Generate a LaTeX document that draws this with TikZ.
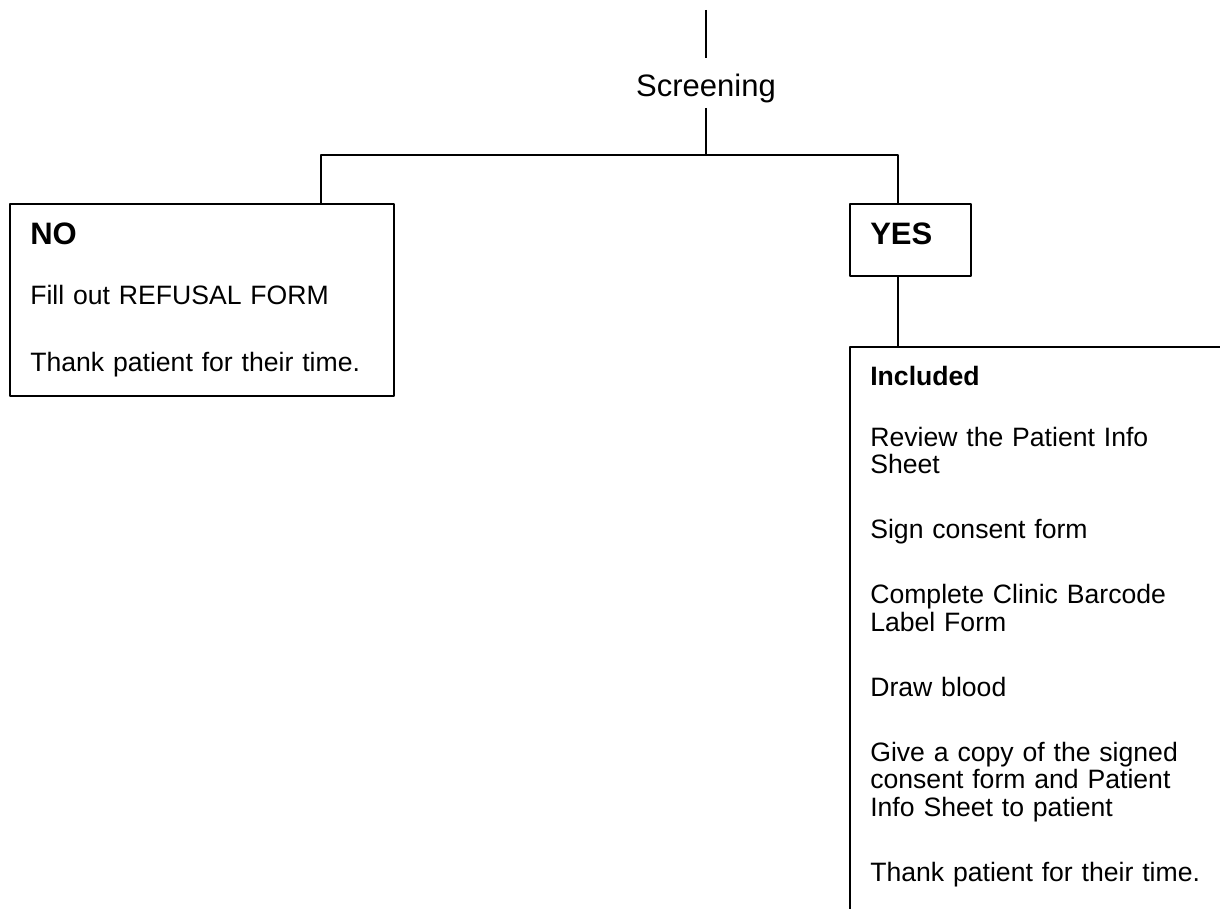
\documentclass[tikz,border=0pt]{standalone}
\usepackage{fontspec}
\setmainfont{Liberation Sans}
\begin{document}
\begin{tikzpicture}[x=0.5pt,y=-0.5pt,line width=1pt,line join=round,
 font=\fontsize{13.3pt}{13.75pt}\selectfont,
 box/.style={draw,anchor=north west,align=left,inner xsep=10pt,inner ysep=9.5pt}]
 \def\hd#1{{\bfseries\fontsize{15.5pt}{18pt}\selectfont #1}}
 \def\gap{18.75pt}
 \useasboundingbox (0,0) rectangle (1220,909);
 \node[anchor=base,inner sep=0pt,text height=19pt,text depth=5pt,font=\fontsize{15.5pt}{18pt}\selectfont] (screen) at (706,97) {Screening};
 \node[box,text width=171.85pt] (no) at (9.3,203) {\hd{NO}\\[16.25pt]Fill out REFUSAL FORM\\[19.75pt]Thank patient for their time.};
 \node[box,text width=40.35pt,text depth=6pt] (yes) at (849.3,203) {\hd{YES}};
 \node[box,text width=220pt] (incl) at (849.3,346) {\textbf{Included}\\[16.75pt]Review the Patient Info\\Sheet\\[\gap]Sign consent form\\[\gap]Complete Clinic Barcode\\Label Form\\[\gap]Draw blood\\[\gap]Give a copy of the signed\\consent form and Patient\\Info Sheet to patient\\[\gap]Thank patient for their time.\\[\gap]\mbox{}};
 \coordinate (top) at (706,10);
 \coordinate (split) at (706,155);
 \draw (top) -- (screen.north) (screen.south) -- (split);
 \draw (split) -| ([xshift=155.85pt]no.north west);
 \draw (split) -| ([xshift=24.2pt]yes.north west);
 \draw ([xshift=24.2pt]yes.south west) -- ([xshift=24.2pt]incl.north west);
\end{tikzpicture}
\end{document}
